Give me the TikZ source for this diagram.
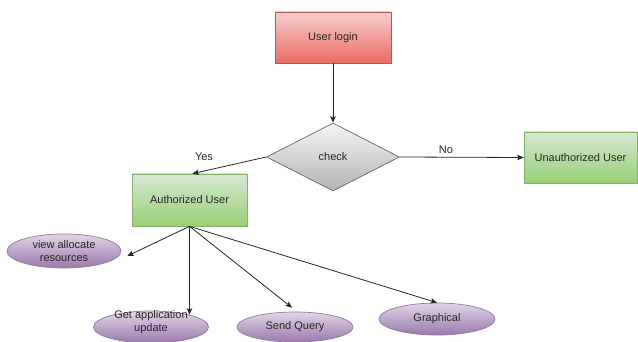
\documentclass[tikz,border=0pt]{standalone}
\usepackage{fontspec}
\setmainfont{Liberation Sans}
\usetikzlibrary{shapes.geometric,arrows.meta,calc}
\definecolor{txt}{HTML}{262626}
\definecolor{redtop}{HTML}{F8CECC}\definecolor{redbot}{HTML}{EA6B66}\definecolor{redline}{HTML}{B85450}
\definecolor{greentop}{HTML}{D5E8D4}\definecolor{greenbot}{HTML}{97D077}\definecolor{greenline}{HTML}{82B366}
\definecolor{greytop}{HTML}{F5F5F5}\definecolor{greybot}{HTML}{B3B3B3}\definecolor{greyline}{HTML}{666666}
\definecolor{purptop}{HTML}{E1D5E7}\definecolor{purpbot}{HTML}{9A7AAB}\definecolor{purpline}{HTML}{9673A6}
\tikzset{
  base/.style={font=\fontsize{11}{12.5}\selectfont, text=txt, inner sep=0pt, align=center, line width=0.7pt},
  redbox/.style={base, rectangle, draw=redline, top color=redtop, bottom color=redbot},
  greenbox/.style={base, rectangle, draw=greenline, top color=greentop, bottom color=greenbot},
  decision/.style={base, diamond, draw=greyline, top color=greytop, bottom color=greybot},
  usecase/.style={base, ellipse, draw=purpline, top color=purptop, bottom color=purpbot},
  flow/.style={draw=black!85, line width=0.8pt, -{Stealth[length=6.5pt,width=5.5pt,inset=1.5pt]}},
  lbl/.style={font=\fontsize{11}{12.5}\selectfont, text=txt, inner sep=0pt}
}
\begin{document}
\begin{tikzpicture}[x=1pt,y=-1pt]
\useasboundingbox (0,0) rectangle (638,342);

% process boxes
\node[redbox, minimum width=116pt, minimum height=51pt] (login) at (333,37.5) {User login};
\node[decision, minimum width=133pt, minimum height=68pt] (check) at (333,157) {check};
\node[greenbox, minimum width=113pt, minimum height=51pt] (unauth) at (580.5,157.5) {Unauthorized User};
\node[greenbox, minimum width=115pt, minimum height=52pt] (auth) at (189.5,200) {Authorized User};

% use cases
\node[usecase, minimum width=114pt, minimum height=34pt] (view) at (64,251) {view allocate\\resources};
\node[usecase, minimum width=115pt, minimum height=32pt] (getapp) at (151,327) {};
\node[lbl, align=center] (getapptext) at (151,322) {Get application\\update};
\node[usecase, minimum width=116pt, minimum height=30pt] (send) at (295,327) {Send Query};
\node[usecase, minimum width=116pt, minimum height=32pt] (graph) at (437,319) {Graphical};

% decision labels
\node[lbl] (yes) at (204,157) {Yes};
\node[lbl] (no) at (446,150) {No};

% connectors
\draw[flow] (login.south) -- (check.north);
\draw[flow] (check.east) -- (unauth.west);
\draw[flow] (check.west) -- ($(auth.north)+(3,0)$);
\draw[flow] (auth.south) -- ($(view.east)+(6,5)$);
\draw[flow] (auth.south) -- ($(auth.south |- getapp.north)+(0,4)$);
\draw[flow] (auth.south) -- ($(send.north)+(-3,-4)$);
\draw[flow] (auth.south) -- (graph.north);
\end{tikzpicture}
\end{document}
